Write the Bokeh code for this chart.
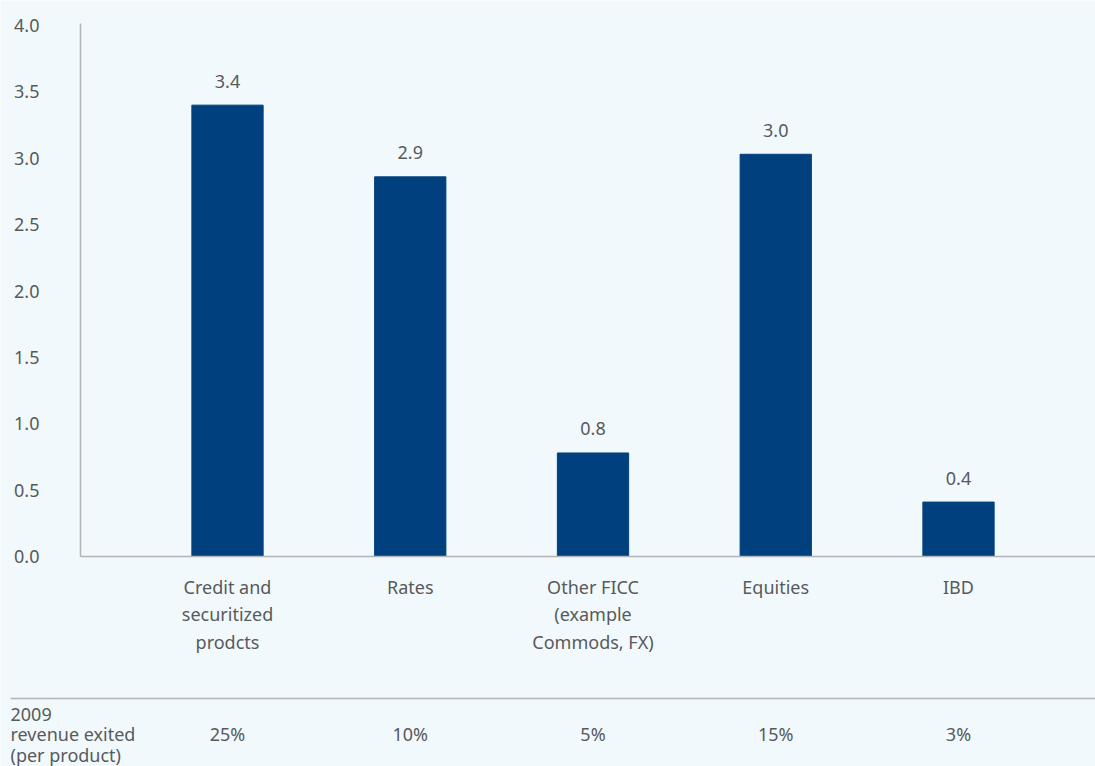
from bokeh.plotting import figure
from bokeh.models import Range1d, FixedTicker, NumeralTickFormatter, LinearAxis
from bokeh.core.properties import value
from bokeh.embed import file_html
from bokeh.resources import INLINE

# ---- data ----
categories = ["Credit and\nsecuritized\nprodcts", "Rates", "Other FICC\n(example\nCommods, FX)", "Equities", "IBD"]
values = [3.40, 2.86, 0.78, 3.03, 0.41]
value_labels = ["3.4", "2.9", "0.8", "3.0", "0.4"]
revenue_exited = ["25%", "10%", "5%", "15%", "3%"]
row_label = "2009\nrevenue exited\n(per product)"
y_ticks = [0.0, 0.5, 1.0, 1.5, 2.0, 2.5, 3.0, 3.5, 4.0]

# ---- style ----
BG = "#f1f9fc"
BAR = "#00407e"
TXT = "#58595b"
AXIS = "#b1b5b8"
FONT = "Noto Sans"
FS = "18px"

W, H = 1095, 766
# pixel layout -> data mapping
X0_PX, DX_PX = 227.0, 182.75      # first category centre, category spacing
Y0_PX, DY_PX = 556.0, 132.75      # baseline pixel, pixels per unit
def xd(px): return (px - X0_PX) / DX_PX
def yd(py): return (Y0_PX - py) / DY_PX

idx = list(range(len(categories)))

p = figure(width=W, height=H, x_range=Range1d(xd(0), xd(W)), y_range=Range1d(yd(H), yd(0)),
           output_backend="svg", toolbar_location=None,
           x_axis_location=None, y_axis_location=None,
           min_border_left=0, min_border_right=0, min_border_top=0, min_border_bottom=0,
           background_fill_color=BG, border_fill_color=BG, outline_line_color=None)
p.xgrid.visible = False
p.ygrid.visible = False

p.vbar(x=idx, top=values, width=0.39, color=BAR)
p.text(x=idx, y=values, text=value_labels, y_offset=-24, text_align="center", text_baseline="middle",
       text_font=value(FONT), text_font_size=FS, text_color=TXT)

def style(ax):
    ax.axis_line_color = AXIS
    ax.axis_line_width = 1.5
    ax.major_tick_line_color = None
    ax.minor_tick_line_color = None
    ax.major_label_text_font = FONT
    ax.major_label_text_font_size = FS
    ax.major_label_text_color = TXT

ya = LinearAxis(fixed_location=xd(80), bounds=(0, yd(23)),
                ticker=FixedTicker(ticks=y_ticks), formatter=NumeralTickFormatter(format="0.0"))
style(ya)
ya.major_label_standoff = 35
p.add_layout(ya, "left")

xa = LinearAxis(fixed_location=0, bounds=(xd(80), xd(W)), ticker=FixedTicker(ticks=idx),
                major_label_overrides={i: c for i, c in zip(idx, categories)})
style(xa)
xa.major_label_standoff = 12
xa.major_label_text_line_height = 1.16
p.add_layout(xa, "below")

ta = LinearAxis(fixed_location=yd(698), bounds=(xd(10), xd(W)), ticker=FixedTicker(ticks=idx),
                major_label_overrides={i: c for i, c in zip(idx, revenue_exited)})
style(ta)
ta.major_label_standoff = 17
p.add_layout(ta, "below")

p.text(x=[xd(10)], y=[yd(734)], text=[row_label], text_align="left", text_baseline="middle",
       text_font=value(FONT), text_font_size=FS, text_color=TXT, text_line_height=0.84)

html = file_html(p, INLINE)
html = html.replace("<body>", '<body style="margin:0;background:%s">' % BG, 1)
open("out.html", "w").write(html)
